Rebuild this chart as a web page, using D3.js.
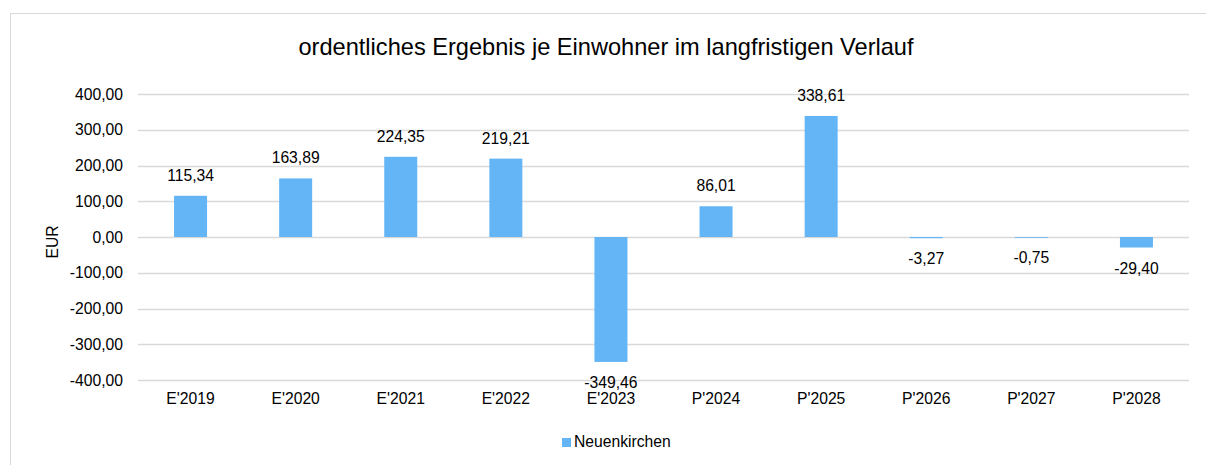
<!DOCTYPE html>
<html><head><meta charset="utf-8">
<script src="https://cdn.jsdelivr.net/npm/d3@7"></script>
<style>body{margin:0;background:#fff}svg{display:block;font-family:"Liberation Sans",Arial,sans-serif}</style>
</head><body><svg id="c" width="1206" height="465"></svg>
<script>
const categories = ["E'2019","E'2020","E'2021","E'2022","E'2023","P'2024","P'2025","P'2026","P'2027","P'2028"];
const values = [115.34,163.89,224.35,219.21,-349.46,86.01,338.61,-3.27,-0.75,-29.40];
const yTicks = [400,300,200,100,0,-100,-200,-300,-400];
const seriesName = "Neuenkirchen";
const title = "ordentliches Ergebnis je Einwohner im langfristigen Verlauf";
const yLabel = "EUR";

const svg = d3.select("#c");
const fmt = v => d3.format(".2f")(v).replace(".", ",").replace("−","-");
const color = "#63B5F6";
const fs = 15.7;

svg.append("rect").attr("x",10.5).attr("y",13.5).attr("width",1200).attr("height",460)
  .attr("fill","#fff").attr("stroke","#d9d9d9").attr("stroke-width",1);

svg.append("text").attr("x",606).attr("y",55).attr("text-anchor","middle")
  .attr("font-size",23.6).attr("fill","#000").text(title);

const x = d3.scaleBand().domain(categories).range([138,1189]).paddingInner(0.686).paddingOuter(0.343);
const y = d3.scaleLinear().domain([-400,400]).range([380,94]);

const g = svg.append("g");
g.selectAll("line.grid").data(yTicks).join("line").attr("class","grid")
  .attr("x1",138).attr("x2",1189).attr("y1",d=>Math.round(y(d))+0.5).attr("y2",d=>Math.round(y(d))+0.5)
  .attr("stroke","#d9d9d9").attr("stroke-width",1.5);

g.selectAll("text.yt").data(yTicks).join("text").attr("class","yt")
  .attr("x",123).attr("y",d=>y(d)+5.5).attr("text-anchor","end").attr("font-size",fs).attr("fill","#000")
  .text(d=>fmt(d));

svg.append("text").attr("transform",`translate(58,242) rotate(-90)`).attr("text-anchor","middle")
  .attr("font-size",fs).attr("fill","#000").text(yLabel);

g.selectAll("rect.bar").data(values).join("rect").attr("class","bar")
  .attr("x",(d,i)=>x(categories[i])).attr("width",x.bandwidth())
  .attr("y",d=>y(Math.max(0,d))).attr("height",d=>Math.max(0.8,Math.abs(y(d)-y(0))))
  .attr("fill",color);

g.selectAll("text.dl").data(values).join("text").attr("class","dl")
  .attr("x",(d,i)=>x(categories[i])+x.bandwidth()/2)
  .attr("y",d=>d>=0 ? y(d)-15 : y(d)+26)
  .attr("text-anchor","middle").attr("font-size",fs).attr("fill","#000").text(d=>fmt(d));

g.selectAll("text.xt").data(categories).join("text").attr("class","xt")
  .attr("x",d=>x(d)+x.bandwidth()/2).attr("y",404).attr("text-anchor","middle")
  .attr("font-size",fs).attr("fill","#000").text(d=>d);

const lg = svg.append("g");
lg.append("rect").attr("x",562).attr("y",438).attr("width",9).attr("height",9).attr("fill",color);
lg.append("text").attr("x",574).attr("y",447).attr("font-size",fs).attr("fill","#000").text(seriesName);
</script></body></html>
